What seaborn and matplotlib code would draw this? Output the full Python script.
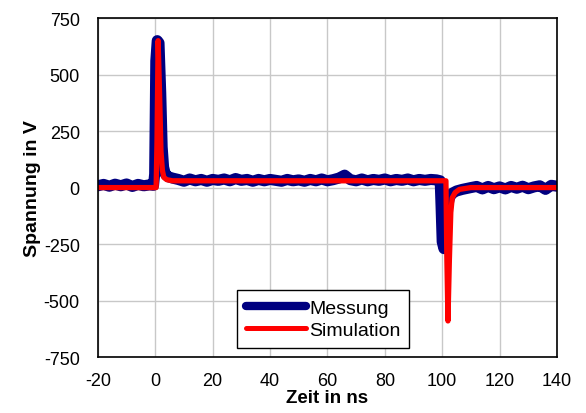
import pandas as pd
import matplotlib.pyplot as plt
import seaborn as sns

t_mess = [-20, -18, -16, -14, -12, -10, -8, -6, -4, -2, -0.6, -0.2, 0.2, 0.7, 1.3, 1.9, 2.4, 2.9, 3.5, 4.5,
          6, 8, 10, 12, 14, 16, 18, 20, 22, 24, 26, 28, 30, 32, 34, 36, 38, 40, 42, 44, 46, 48,
          50, 52, 54, 56, 58, 60, 62, 64, 66, 68, 70, 72, 74, 76, 78, 80, 82, 84, 86, 88, 90,
          92, 94, 96, 98, 99.3, 99.6, 100.0, 100.6, 101.0, 101.5, 102.5, 103.5, 105, 107, 110,
          112, 114, 116, 118, 120, 122, 124, 126, 128, 130, 132, 134, 136, 138, 140]
v_mess = [8, 14, 6, 15, 8, 16, 5, 14, 8, 12, 10, 60, 560, 650, 640, 420, 180, 90, 60, 48,
          42, 36, 28, 38, 30, 36, 28, 36, 32, 38, 30, 40, 32, 36, 28, 36, 30, 36, 32, 28, 36, 30,
          34, 28, 36, 30, 38, 30, 35, 42, 55, 35, 30, 38, 30, 36, 32, 38, 30, 36, 32, 38, 30,
          36, 32, 36, 34, 30, -80, -240, -270, -210, -110, -45, -25, -15, -8, 0,
          5, -6, 5, -5, 3, -6, 5, -3, 6, -5, 3, 8, -8, 10, 6]

# Simulation
t_sim = [-20, 0.3, 0.6, 1.0, 1.5, 2.0, 2.5, 3.0, 4.0, 6.0, 101.3, 101.6, 102.0, 102.5, 103.0,
         103.5, 104.5, 106, 110, 140]
v_sim = [0, 0, 200, 650, 420, 160, 75, 45, 35, 30, 30, -300, -590, -320, -110,
         -45, -22, -8, 0, 0]

x_ticks = [-20, 0, 20, 40, 60, 80, 100, 120, 140]
y_ticks = [-750, -500, -250, 0, 250, 500, 750]

mess = pd.DataFrame({'t': t_mess, 'v': v_mess})
sim = pd.DataFrame({'t': t_sim, 'v': v_sim})

sns.set_style('whitegrid')
plt.rcParams['font.family'] = ['Liberation Sans', 'DejaVu Sans']
plt.rcParams['axes.unicode_minus'] = False
plt.rcParams['text.color'] = 'black'
plt.rcParams['axes.labelcolor'] = 'black'
plt.rcParams['xtick.color'] = 'black'
plt.rcParams['ytick.color'] = 'black'

fs = 13
fig = plt.figure(figsize=(5.86, 4.14), dpi=100)
ax = fig.add_axes([0.167, 0.135, 0.7835, 0.819])

sns.lineplot(data=mess, x='t', y='v', ax=ax, color='#000080', linewidth=8,
             label='Messung', sort=False, solid_capstyle='round', solid_joinstyle='round')
sns.lineplot(data=sim, x='t', y='v', ax=ax, color='#ff0000', linewidth=3.8,
             label='Simulation', sort=False, solid_capstyle='round', solid_joinstyle='round')

ax.set_xlim(-20, 140)
ax.set_ylim(-750, 750)
ax.set_xticks(x_ticks)
ax.set_yticks(y_ticks)
ax.grid(True, color='#c8c8c8', linewidth=1)
for sp in ax.spines.values():
    sp.set_color('black')
    sp.set_linewidth(1.2)
ax.tick_params(axis='y', direction='out', length=5, width=1, labelsize=fs, pad=8)
ax.tick_params(axis='x', direction='out', length=3.6, width=1, labelsize=fs, pad=7)

ax.set_xlabel('Zeit in ns', fontweight='bold', fontsize=13.5, labelpad=0)
ax.set_ylabel('Spannung in V', fontweight='bold', fontsize=14, labelpad=2)

leg = ax.legend(loc='lower left', bbox_to_anchor=(0.303, 0.027), fontsize=14,
                handlelength=3.1, handletextpad=0.15, borderpad=0.45, labelspacing=0.25,
                borderaxespad=0, fancybox=False, framealpha=1, edgecolor='black')
leg.get_frame().set_linewidth(1)
leg.get_lines()[0].set_linewidth(6)
leg.get_lines()[1].set_linewidth(3.6)

fig.savefig('out.png', dpi=100)
